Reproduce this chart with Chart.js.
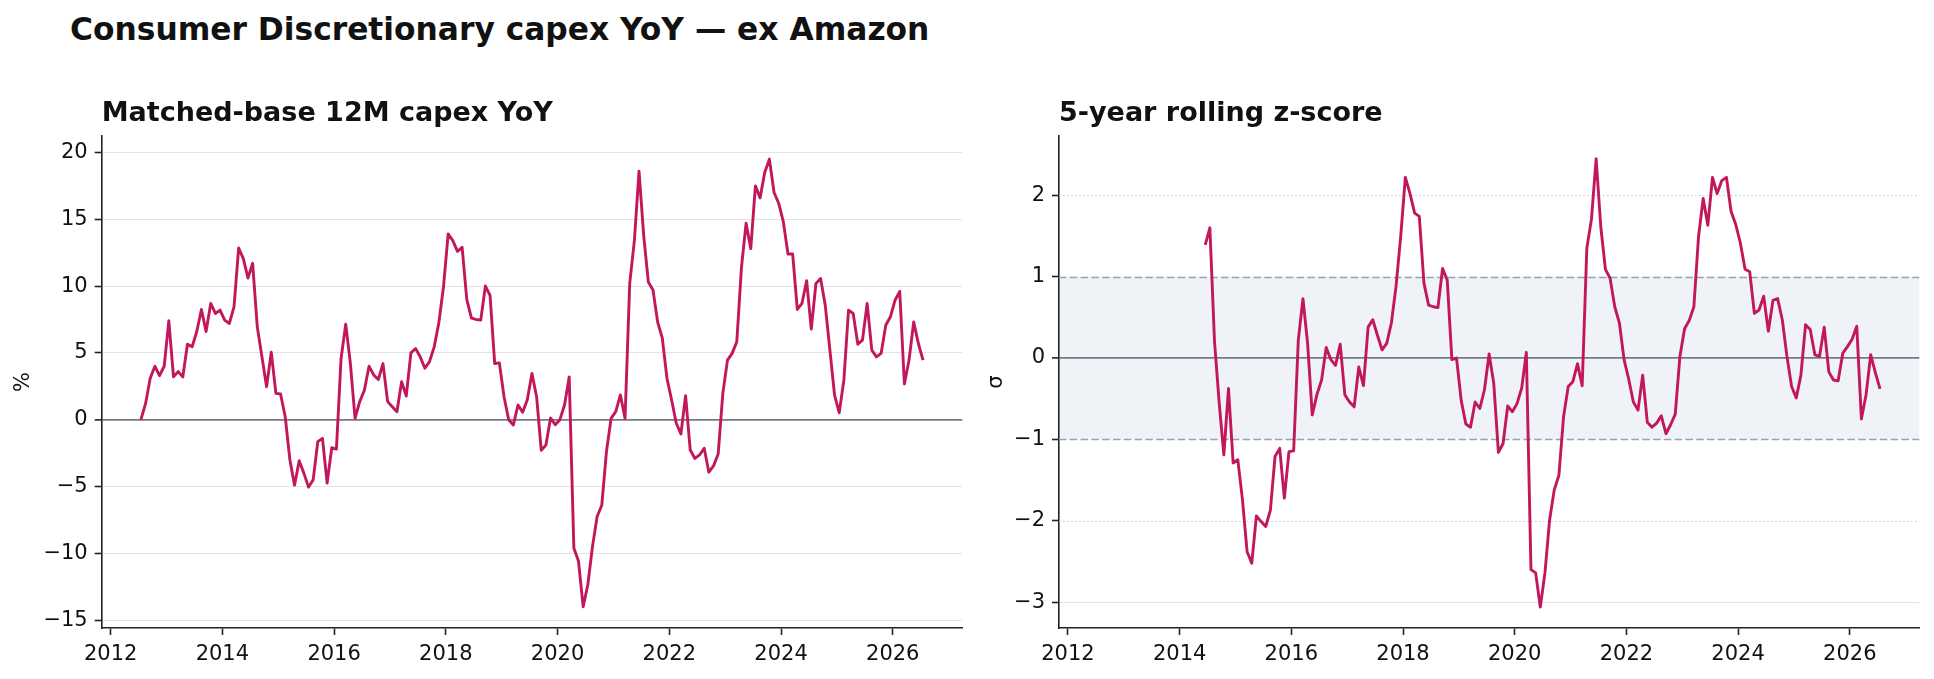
<!DOCTYPE html>
<html>
<head>
<meta charset="utf-8">
<script src="https://cdn.jsdelivr.net/npm/chart.js@4.4.1/dist/chart.umd.min.js"></script>
<style>
  html, body { margin: 0; padding: 0; background: #fff; }
  body { width: 1934px; height: 679px; position: relative; overflow: hidden; font-family: "DejaVu Sans", sans-serif; }
  #mainTitle { position: absolute; left: 70px; top: 14px; font-size: 31.3px; line-height: 31px; font-weight: bold; color: #111; white-space: nowrap; }
  #yoyChart { position: absolute; left: 0; top: 0; }
  #zChart { position: absolute; left: 980px; top: 0; }
</style>
</head>
<body>
<div id="mainTitle">Consumer Discretionary capex YoY — ex Amazon</div>
<canvas id="yoyChart" width="980" height="679" style="width:980px;height:679px"></canvas>
<canvas id="zChart" width="954" height="679" style="width:954px;height:679px"></canvas>
<script>
// monthly series, first point = Jul 2012
const startYear = 2012;
const startMonth = 7;

// Matched-base 12M capex YoY, %
const yoyValues = [
  0.0, 1.2, 3.1, 4.0, 3.3, 4.0, 7.4, 3.2, 3.6, 3.2,
  5.65, 5.45, 6.6, 8.25, 6.6, 8.7, 7.95, 8.2, 7.45, 7.2,
  8.45, 12.85, 12.05, 10.6, 11.7, 6.95, 4.7, 2.47, 5.05, 1.97,
  1.92, 0.22, -3.0, -4.9, -3.07, -4.0, -5.05, -4.5, -1.64, -1.4,
  -4.75, -2.1, -2.2, 4.6, 7.15, 4.2, 0.1, 1.35, 2.2, 4.0,
  3.35, 3.0, 4.2, 1.35, 0.97, 0.6, 2.85, 1.77, 5.0, 5.33,
  4.7, 3.85, 4.35, 5.45, 7.25, 9.95, 13.9, 13.4, 12.6, 12.9,
  9.0, 7.6, 7.5, 7.45, 10.0, 9.3, 4.2, 4.25, 1.72, 0.0,
  -0.4, 1.1, 0.55, 1.5, 3.46, 1.72, -2.3, -1.9, 0.12, -0.38,
  0.0, 1.1, 3.2, -9.6, -10.6, -14.0, -12.35, -9.5, -7.25, -6.4,
  -2.4, 0.1, 0.6, 1.85, 0.1, 10.2, 13.4, 18.6, 13.8, 10.3,
  9.7, 7.3, 6.1, 3.1, 1.47, -0.27, -1.07, 1.8, -2.27, -2.9,
  -2.64, -2.14, -3.93, -3.46, -2.57, 1.97, 4.46, 4.96, 5.83, 11.4,
  14.7, 12.8, 17.5, 16.6, 18.5, 19.5, 17.0, 16.2, 14.8, 12.4,
  12.4, 8.25, 8.7, 10.4, 6.78, 10.2, 10.56, 8.57, 5.2, 1.84,
  0.52, 2.96, 8.2, 7.95, 5.65, 5.95, 8.7, 5.2, 4.7, 4.96,
  7.07, 7.7, 8.94, 9.6, 2.67, 4.46, 7.32, 5.7, 4.46
];

// 5-year rolling z-score, starts 23 months later (Jun 2014)
const zOffset = 23;
const zValues = [
  1.39, 1.60, 0.2, -0.55, -1.19, -0.375, -1.29, -1.25, -1.74, -2.38,
  -2.52, -1.94, -2.01, -2.07, -1.87, -1.21, -1.11, -1.72, -1.15, -1.14,
  0.22, 0.73, 0.18, -0.70, -0.45, -0.27, 0.13, -0.02, -0.09, 0.17,
  -0.45, -0.54, -0.6, -0.11, -0.34, 0.38, 0.47, 0.28, 0.1, 0.18,
  0.43, 0.88, 1.49, 2.22, 2.02, 1.78, 1.74, 0.92, 0.65, 0.63,
  0.62, 1.1, 0.96, -0.02, 0.0, -0.52, -0.81, -0.85, -0.54, -0.62,
  -0.39, 0.05, -0.31, -1.16, -1.05, -0.59, -0.66, -0.56, -0.37, 0.07,
  -2.6, -2.64, -3.06, -2.64, -1.99, -1.62, -1.44, -0.72, -0.35, -0.29,
  -0.07, -0.34, 1.35, 1.71, 2.45, 1.61, 1.09, 0.98, 0.63, 0.43,
  -0.02, -0.26, -0.54, -0.64, -0.21, -0.79, -0.85, -0.80, -0.71, -0.93,
  -0.82, -0.69, 0.02, 0.36, 0.46, 0.63, 1.49, 1.96, 1.63, 2.22,
  2.02, 2.18, 2.22, 1.8, 1.64, 1.41, 1.09, 1.06, 0.55, 0.59,
  0.76, 0.33, 0.71, 0.73, 0.47, 0.02, -0.35, -0.49, -0.21, 0.41,
  0.35, 0.04, 0.02, 0.38, -0.17, -0.27, -0.28, 0.06, 0.14, 0.23,
  0.39, -0.75, -0.45, 0.04, -0.18, -0.38
];

const yearTicks = [2012, 2014, 2016, 2018, 2020, 2022, 2024, 2026];
const yoyTicks = [-15, -10, -5, 0, 5, 10, 15, 20];
const zTicks = [-3, -2, -1, 0, 1, 2];
const zBand = [-1, 1];
const zGuides = [-2, 2];

const FONT = '"DejaVu Sans", sans-serif';
const LINE = '#c2185b';

// month index -> decimal year (mid-month)
function monthX(i) {
  return startYear + (startMonth - 1 + i + 0.5) / 12;
}
function minusFmt(v) {
  return v < 0 ? '\u2212' + Math.abs(v) : String(v);
}

function buildOptions(cfg) {
  return {
    responsive: false,
    animation: false,
    devicePixelRatio: 1,
    layout: { padding: { left: 0, right: cfg.padRight, top: 0, bottom: 0 } },
    plugins: {
      legend: { display: false },
      tooltip: { enabled: false },
      title: {
        display: true,
        text: cfg.title,
        align: 'start',
        fullSize: false,
        color: '#111',
        font: { family: FONT, size: 27, weight: 'bold' },
        padding: { top: 97.8, bottom: 5.8 }
      }
    },
    scales: {
      x: {
        type: 'linear',
        min: 2011.84,
        max: 2027.245,
        afterBuildTicks: s => { s.ticks = yearTicks.map(v => ({ value: v })); },
        afterFit: s => { s.height = 51; },
        ticks: { callback: v => String(v), color: '#111', font: { family: FONT, size: 21 }, padding: 7, maxRotation: 0 },
        grid: { drawOnChartArea: false, drawTicks: true, tickLength: 7, tickColor: '#222', tickWidth: 1.6 },
        border: { display: true, color: '#222', width: 1.6 }
      },
      y: {
        min: cfg.yMin,
        max: cfg.yMax,
        afterBuildTicks: s => { s.ticks = cfg.yTicks.map(v => ({ value: v })); },
        afterFit: s => { s.width = cfg.yWidth; },
        ticks: { callback: minusFmt, color: '#111', font: { family: FONT, size: 21 }, padding: 7 },
        grid: {
          color: cfg.gridColor,
          lineWidth: c => (c.tick && c.tick.value === 0 ? 1.8 : 1),
          tickLength: 7,
          tickColor: '#222',
          tickWidth: 1.6
        },
        border: { display: true, color: '#222', width: 1.6 },
        title: { display: true, text: cfg.yLabel, color: '#111', font: { family: FONT, size: 21 }, padding: { top: cfg.titlePad, bottom: 0 } }
      }
    }
  };
}

function seriesDataset(values, offset) {
  return {
    data: values.map((v, i) => ({ x: monthX(i + offset), y: v })),
    borderColor: LINE,
    borderWidth: 2.9,
    pointRadius: 0,
    tension: 0,
    borderJoinStyle: 'round',
    fill: false
  };
}

// shaded +-1 band, dashed +-1 and dotted +-2 guides
const zGuidePlugin = {
  id: 'zGuides',
  beforeDraw(chart) {
    const { ctx, chartArea: a, scales: { y } } = chart;
    const top = y.getPixelForValue(zBand[1]);
    const bottom = y.getPixelForValue(zBand[0]);
    ctx.save();
    ctx.fillStyle = '#eff3f8';
    ctx.fillRect(a.left, top, a.right - a.left, bottom - top);
    ctx.restore();
  },
  beforeDatasetsDraw(chart) {
    const { ctx, chartArea: a, scales: { y } } = chart;
    ctx.save();
    ctx.lineWidth = 1.5;
    ctx.strokeStyle = '#94a3b8';
    ctx.setLineDash([7.5, 3.3]);
    zBand.forEach(v => {
      const py = Math.round(y.getPixelForValue(v)) + 0.5;
      ctx.beginPath(); ctx.moveTo(a.left, py); ctx.lineTo(a.right, py); ctx.stroke();
    });
    ctx.lineWidth = 1.2;
    ctx.strokeStyle = '#c3cbd9';
    ctx.setLineDash([1.5, 2.5]);
    zGuides.forEach(v => {
      const py = Math.round(y.getPixelForValue(v)) + 0.5;
      ctx.beginPath(); ctx.moveTo(a.left, py); ctx.lineTo(a.right, py); ctx.stroke();
    });
    ctx.restore();
  }
};

new Chart(document.getElementById('yoyChart'), {
  type: 'line',
  data: { datasets: [seriesDataset(yoyValues, 0)] },
  options: buildOptions({
    title: 'Matched-base 12M capex YoY',
    yLabel: '%',
    yMin: -15.59, yMax: 21.23,
    yTicks: yoyTicks,
    yWidth: 101.7,
    padRight: 17.7,
    titlePad: 11,
    gridColor: c => (c.tick && c.tick.value === 0 ? '#757b86' : '#e1e3e8')
  })
});

new Chart(document.getElementById('zChart'), {
  type: 'line',
  data: { datasets: [seriesDataset(zValues, zOffset)] },
  options: buildOptions({
    title: '5-year rolling z-score',
    yLabel: 'σ',
    yMin: -3.317, yMax: 2.728,
    yTicks: zTicks,
    yWidth: 79,
    padRight: 14.7,
    titlePad: 4.4,
    gridColor: c => {
      const v = c.tick ? c.tick.value : null;
      if (v === 0) return '#757b86';
      if (Math.abs(v) === 1 || Math.abs(v) === 2) return 'rgba(0,0,0,0)';
      return '#e1e3e8';
    }
  }),
  plugins: [zGuidePlugin]
});
</script>
</body>
</html>
